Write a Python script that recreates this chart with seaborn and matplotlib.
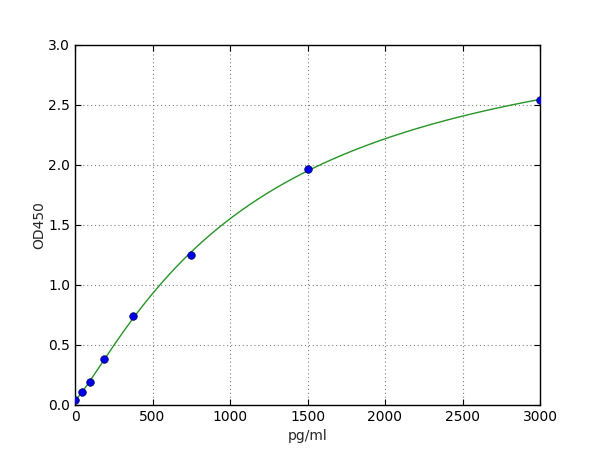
import matplotlib
matplotlib.use("Agg")
import matplotlib.pyplot as plt
import numpy as np
import pandas as pd
import seaborn as sns

# standard concentrations and measured OD
conc = [0, 46.875, 93.75, 187.5, 375, 750, 1500, 3000]
od = [0.04, 0.11, 0.19, 0.38, 0.74, 1.25, 1.97, 2.54]

df = pd.DataFrame({"pg/ml": conc, "OD450": od})

#%% 4PL fit: grid over b, c, linear least squares for a, d
x = np.array(conc, dtype=float)
y = np.array(od, dtype=float)
best = None
for b in np.linspace(0.5, 3.0, 251):
    for c in np.geomspace(100, 20000, 400):
        f = 1.0 / (1.0 + (x / c) ** b)
        A = np.column_stack([f, 1 - f])
        coef, *_ = np.linalg.lstsq(A, y, rcond=None)
        err = np.sum((A @ coef - y) ** 2)
        if best is None or err < best[0]:
            best = (err, b, c, coef)
_, b, c, (a, d) = best
xs = np.linspace(0, 3000, 400)
fit = pd.DataFrame({"pg/ml": xs, "OD450": d + (a - d) / (1 + (xs / c) ** b)})

#%% plot
sns.set_style("ticks")
plt.rcParams.update({"font.size": 10, "xtick.direction": "in", "ytick.direction": "in",
                     "xtick.top": True, "ytick.right": True,
                     "axes.edgecolor": "black", "axes.linewidth": 1.0})
plt.rcParams["font.family"] = ["DejaVu Sans"]

fig = plt.figure(figsize=(6, 4.5), dpi=100)
ax = fig.add_axes([0.125, 0.1, 0.775, 0.8])
sns.lineplot(data=fit, x="pg/ml", y="OD450", color=(0.15, 0.58, 0.15), lw=1, ax=ax)
sns.scatterplot(data=df, x="pg/ml", y="OD450", color=(0, 0, 0.9), s=30,
                edgecolor=(0, 0, 0.35), linewidth=0.5, zorder=3, ax=ax)
ax.set_xlim(0, 3000)
ax.set_ylim(0, 3.0)
ax.set_xticks(np.arange(0, 3001, 500))
ax.set_yticks(np.arange(0, 3.01, 0.5))
ax.set_yticklabels([f"{v:.1f}" for v in np.arange(0, 3.01, 0.5)])
ax.grid(True, linestyle=(0, (1, 2.5)), color="gray", linewidth=0.8)
ax.tick_params(length=4, width=0.8, colors="black", labelsize=10)
ax.set_xlabel("pg/ml", fontsize=10)
ax.set_ylabel("OD450", fontsize=10, labelpad=1)

fig.savefig("out.png", dpi=100)
